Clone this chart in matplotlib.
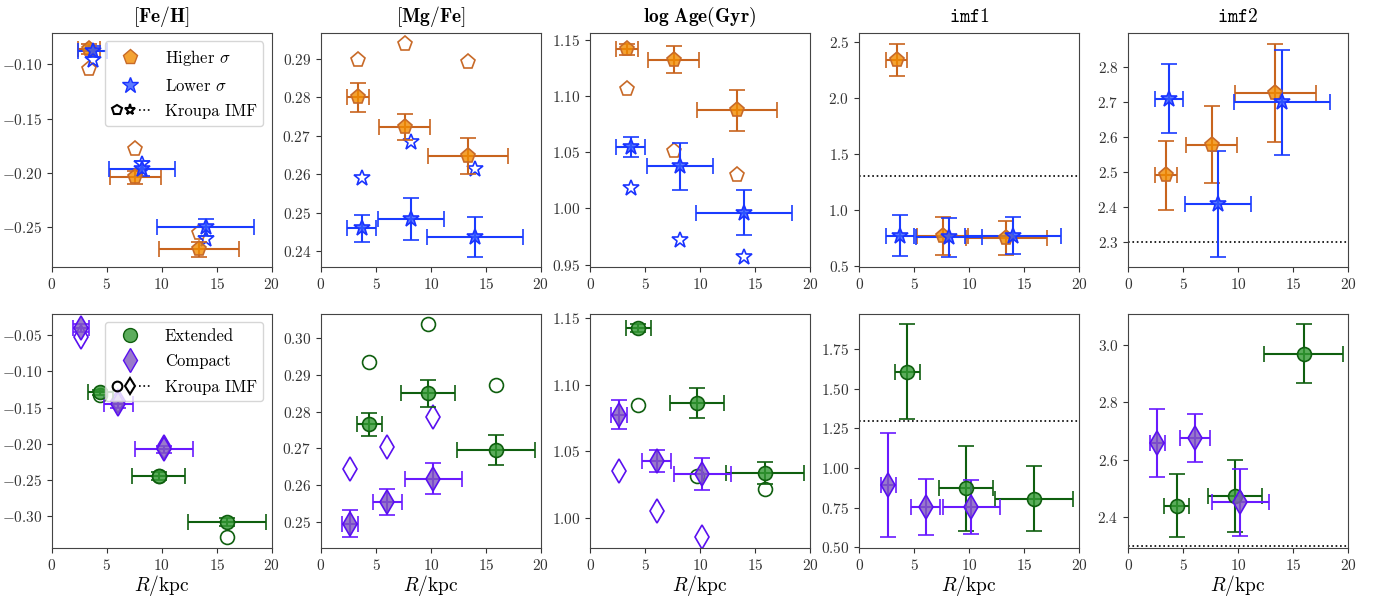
import matplotlib
matplotlib.use('Agg')
import matplotlib.pyplot as plt
from matplotlib.lines import Line2D
from matplotlib.legend_handler import HandlerTuple

plt.rcParams['font.family'] = 'cmr10'
plt.rcParams['mathtext.fontset'] = 'cm'
plt.rcParams['axes.formatter.use_mathtext'] = True
plt.rcParams['font.size'] = 11

# radii (kpc) and their spread
R_high = [3.4, 7.6, 13.4]
R_high_err = [1.0, 2.3, 3.65]
R_low = [3.7, 8.2, 14.0]
R_low_err = [1.3, 3.0, 4.4]
R_ext = [4.4, 9.7, 15.95]
R_ext_err = [1.15, 2.45, 3.55]
R_comp = [2.65, 6.05, 10.2]
R_comp_err = [0.7, 1.35, 2.6]

# top row: higher / lower sigma
feh_high = [-0.086, -0.2037, -0.270]
feh_high_err = [0.005, 0.006, 0.007]
feh_high_kr = [-0.104, -0.178, -0.255]
feh_low = [-0.088, -0.196, -0.250]
feh_low_err = [0.005, 0.007, 0.0075]
feh_low_kr = [-0.096, -0.192, -0.261]

mgfe_high = [0.280, 0.2724, 0.2647]
mgfe_high_err = [0.0037, 0.0034, 0.0046]
mgfe_high_kr = [0.2897, 0.2940, 0.2891]
mgfe_low = [0.2459, 0.2483, 0.2437]
mgfe_low_err = [0.0036, 0.0054, 0.0052]
mgfe_low_kr = [0.2590, 0.2684, 0.2614]

age_high = [1.1417, 1.1323, 1.0873]
age_high_err = [0.005, 0.012, 0.018]
age_high_kr = [1.106, 1.051, 1.030]
age_low = [1.0544, 1.0376, 0.9962]
age_low_err = [0.009, 0.021, 0.020]
age_low_kr = [1.018, 0.972, 0.957]

imf1_high = [2.342, 0.767, 0.747]
imf1_high_err = [0.143, 0.17, 0.15]
imf1_low = [0.77, 0.756, 0.767]
imf1_low_err = [0.18, 0.175, 0.165]

imf2_high = [2.4905, 2.578, 2.727]
imf2_high_err = [0.099, 0.11, 0.14]
imf2_low = [2.7095, 2.4095, 2.70]
imf2_low_err = [0.098, 0.151, 0.15]

# bottom row: extended / compact
feh_ext = [-0.1292, -0.2445, -0.3078]
feh_ext_err = [0.004, 0.005, 0.005]
feh_ext_kr = [-0.133, -0.245, -0.329]
feh_comp = [-0.0403, -0.1454, -0.2074]
feh_comp_err = [0.005, 0.005, 0.005]
feh_comp_kr = [-0.053, -0.141, -0.205]

mgfe_ext = [0.2766, 0.285, 0.2695]
mgfe_ext_err = [0.0031, 0.0037, 0.0041]
mgfe_ext_kr = [0.2935, 0.3038, 0.2872]
mgfe_comp = [0.2495, 0.2555, 0.2618]
mgfe_comp_err = [0.0037, 0.0035, 0.0043]
mgfe_comp_kr = [0.2644, 0.2705, 0.2785]

age_ext = [1.1422, 1.0862, 1.0337]
age_ext_err = [0.003, 0.011, 0.0083]
age_ext_kr = [1.0848, 1.0317, 1.0217]
age_comp = [1.0774, 1.0427, 1.0329]
age_comp_err = [0.0107, 0.008, 0.012]
age_comp_kr = [1.035, 1.005, 0.9855]

imf1_ext = [1.6085, 0.871, 0.807]
imf1_ext_err = [0.30, 0.27, 0.206]
imf1_comp = [0.891, 0.754, 0.754]
imf1_comp_err = [0.33, 0.177, 0.17]

imf2_ext = [2.44, 2.4727, 2.9697]
imf2_ext_err = [0.111, 0.125, 0.102]
imf2_comp = [2.658, 2.676, 2.4521]
imf2_comp_err = [0.12, 0.084, 0.117]

kroupa_imf1 = 1.3
kroupa_imf2 = 2.3

titles = [r'$\mathbf{[Fe/H]}$', r'$\mathbf{[Mg/Fe]}$', r'$\mathbf{log\ Age(Gyr)}$',
          r'$\mathtt{imf1}$', r'$\mathtt{imf2}$']

# styles: (marker, ms, face, edge, errcolor)
sty_high = ('p', 11, (0.95, 0.55, 0.0, 0.8), '#c86a28', '#c8641e')
sty_low = ('*', 12, (0.2, 0.35, 1.0, 0.8), '#1a33ff', '#1a3cff')
sty_ext = ('o', 10, (0.2, 0.6, 0.2, 0.8), '#0f5f0f', '#0f5f0f')
sty_comp = ('d', 12, (0.5, 0.35, 0.75, 0.8), '#5a10f0', '#6a1aff')

fig, axes = plt.subplots(2, 5, figsize=(13.85, 5.99), dpi=100)
fig.subplots_adjust(left=0.0375, right=0.9733, top=0.945, bottom=0.085,
                    wspace=0.224, hspace=0.197)


def draw(ax, R, Rerr, y, yerr, sty, kr=None):
    m, ms, fc, ec, ecol = sty
    ax.errorbar(R, y, xerr=Rerr, yerr=yerr, fmt=m, ms=ms, mfc=fc, mec=ec,
                mew=1.2, ecolor=ecol, elinewidth=1.5, capsize=6, capthick=1.5,
                zorder=3)
    if kr is not None:
        ax.plot(R, kr, ls='none', marker=m, ms=ms, mfc='none', mec=ec, mew=1.2,
                zorder=2)


top = [(feh_high, feh_high_err, feh_high_kr, feh_low, feh_low_err, feh_low_kr),
       (mgfe_high, mgfe_high_err, mgfe_high_kr, mgfe_low, mgfe_low_err, mgfe_low_kr),
       (age_high, age_high_err, age_high_kr, age_low, age_low_err, age_low_kr),
       (imf1_high, imf1_high_err, None, imf1_low, imf1_low_err, None),
       (imf2_high, imf2_high_err, None, imf2_low, imf2_low_err, None)]
bottom = [(feh_ext, feh_ext_err, feh_ext_kr, feh_comp, feh_comp_err, feh_comp_kr),
          (mgfe_ext, mgfe_ext_err, mgfe_ext_kr, mgfe_comp, mgfe_comp_err, mgfe_comp_kr),
          (age_ext, age_ext_err, age_ext_kr, age_comp, age_comp_err, age_comp_kr),
          (imf1_ext, imf1_ext_err, None, imf1_comp, imf1_comp_err, None),
          (imf2_ext, imf2_ext_err, None, imf2_comp, imf2_comp_err, None)]

for i in range(5):
    a, ae, ak, b, be, bk = top[i]
    ax = axes[0, i]
    draw(ax, R_high, R_high_err, a, ae, sty_high, ak)
    draw(ax, R_low, R_low_err, b, be, sty_low, bk)
    ax.set_title(titles[i], fontsize=14, pad=8)

    a, ae, ak, b, be, bk = bottom[i]
    ax = axes[1, i]
    draw(ax, R_ext, R_ext_err, a, ae, sty_ext, ak)
    draw(ax, R_comp, R_comp_err, b, be, sty_comp, bk)
    ax.set_xlabel(r'$R/\mathrm{kpc}$', fontsize=14, labelpad=0)

for row in range(2):
    axes[row, 3].axhline(kroupa_imf1, color='k', ls=':', lw=1.2)
    axes[row, 4].axhline(kroupa_imf2, color='k', ls=':', lw=1.2)
    for ax in axes[row]:
        ax.set_xlim(0, 20)
        ax.set_xticks([0, 5, 10, 15, 20])
        ax.tick_params(labelsize=11, colors='#333333')
        for s in ax.spines.values():
            s.set_color('#444444')

hmap = {tuple: HandlerTuple(ndivide=None, pad=0.2)}
kr_handle = (Line2D([], [], ls='none', marker='p', ms=7, mfc='none', mec='k', mew=1.5),
             Line2D([], [], ls='none', marker='*', ms=8, mfc='none', mec='k', mew=1.5),
             Line2D([], [], ls=':', color='k', lw=1.2))
h1 = Line2D([], [], ls='none', marker='p', ms=11, mfc=sty_high[2], mec=sty_high[3])
h2 = Line2D([], [], ls='none', marker='*', ms=12, mfc=sty_low[2], mec=sty_low[3])
axes[0, 0].legend([h1, h2, kr_handle], [r'Higher $\sigma$', r'Lower $\sigma$', 'Kroupa IMF'],
                  loc='upper right', fontsize=12, handlelength=2.3, handletextpad=0.9,
                  labelspacing=0.6, handler_map=hmap)

kr_handle2 = (Line2D([], [], ls='none', marker='o', ms=7, mfc='none', mec='k', mew=1.5),
              Line2D([], [], ls='none', marker='d', ms=8, mfc='none', mec='k', mew=1.5),
              Line2D([], [], ls=':', color='k', lw=1.2))
h3 = Line2D([], [], ls='none', marker='o', ms=10, mfc=sty_ext[2], mec=sty_ext[3])
h4 = Line2D([], [], ls='none', marker='d', ms=12, mfc=sty_comp[2], mec=sty_comp[3])
axes[1, 0].legend([h3, h4, kr_handle2], ['Extended', 'Compact', 'Kroupa IMF'],
                  loc='upper right', fontsize=12, handlelength=2.3, handletextpad=0.9,
                  labelspacing=0.6, handler_map=hmap)

fig.savefig('out.png', dpi=100)
